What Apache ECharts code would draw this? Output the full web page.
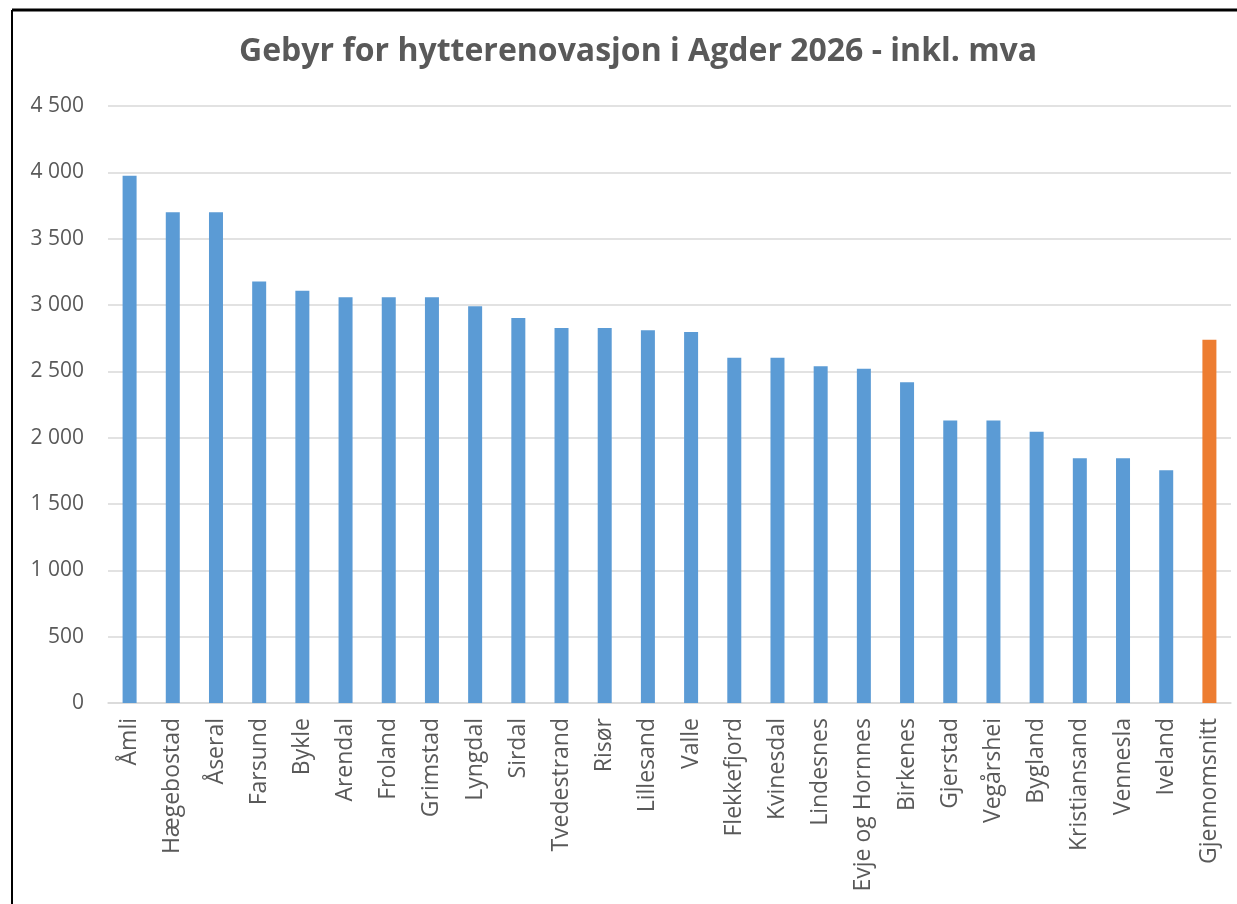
<!DOCTYPE html>
<html><head><meta charset="utf-8">
<script src="https://cdn.jsdelivr.net/npm/echarts@6/dist/echarts.min.js"></script>
<style>html,body{margin:0;padding:0;background:#fff}#c{width:1237px;height:904px}</style>
</head><body><div id="c"></div>
<script>
const categories = ["Åmli","Hægebostad","Åseral","Farsund","Bykle","Arendal","Froland","Grimstad","Lyngdal","Sirdal","Tvedestrand","Risør","Lillesand","Valle","Flekkefjord","Kvinesdal","Lindesnes","Evje og Hornnes","Birkenes","Gjerstad","Vegårshei","Bygland","Kristiansand","Vennesla","Iveland","Gjennomsnitt"];
const values = [3975,3700,3700,3177,3107,3058,3058,3058,2990,2902,2827,2827,2809,2797,2602,2602,2538,2519,2418,2130,2130,2045,1844,1844,1754,2739];
const highlight = "Gjennomsnitt";
const yTicks = {min:0, max:4500, interval:500};
const title = "Gebyr for hytterenovasjon i Agder 2026 - inkl. mva";

const chart = echarts.init(document.getElementById('c'), null, {renderer:'canvas'});
const FONT = '"Open Sans", sans-serif';
chart.setOption({
  animation:false,
  backgroundColor:'#fff',
  title:{text:title,left:234,top:31,textStyle:{fontFamily:FONT,fontWeight:'bold',fontSize:32,color:'#595959'}},
  grid:{left:108,right:6,top:106,bottom:201,containLabel:false},
  xAxis:{type:'category',data:categories,
    axisLine:{lineStyle:{color:'#d9d9d9',width:1.5}},
    axisTick:{show:false},
    axisLabel:{rotate:90,interval:0,margin:15,fontFamily:FONT,fontSize:23,color:'#595959'}},
  yAxis:{type:'value',min:yTicks.min,max:yTicks.max,interval:yTicks.interval,
    axisLine:{show:false},axisTick:{show:false},
    splitLine:{lineStyle:{color:'#d9d9d9',width:1.5}},
    axisLabel:{margin:24,fontFamily:FONT,fontSize:21,color:'#595959',
      formatter:v=>String(v).replace(/\B(?=(\d{3})+(?!\d))/g,' ')}},
  series:[{type:'bar',barWidth:14,
    data:values.map((v,i)=>({value:v,itemStyle:{color:categories[i]===highlight?'#ed7d31':'#5b9bd5'}}))}],
  graphic:[
    {type:'line',shape:{x1:12,y1:10,x2:1237,y2:10},style:{stroke:'#000',lineWidth:3}},
    {type:'line',shape:{x1:12,y1:10,x2:12,y2:904},style:{stroke:'#000',lineWidth:2}}
  ]
});
</script></body></html>
